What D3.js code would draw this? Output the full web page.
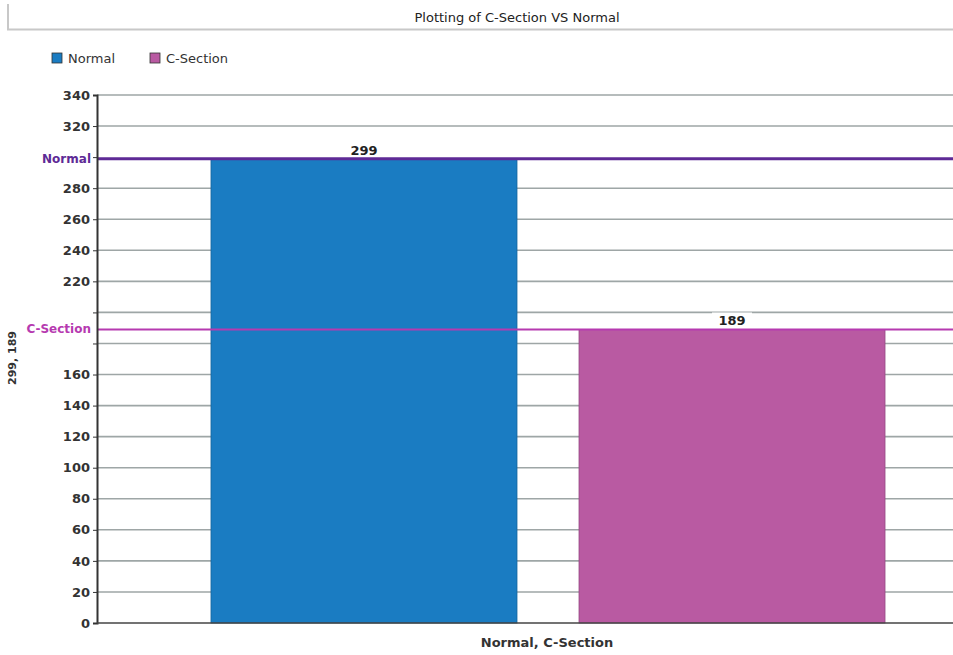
<!DOCTYPE html>
<html>
<head>
<meta charset="utf-8">
<script src="https://cdn.jsdelivr.net/npm/d3@7"></script>
<style>
body{margin:0;background:#fff;}
text{font-family:"Comic Sans MS","DejaVu Sans",sans-serif;}
</style>
</head>
<body>
<div class="graph"></div>
<script>
// data
var categories = ["Normal", "C-Section"];
var values = [299, 189];
var colors = ["#1a7cc2", "#b95aa2"];
var refLabels = ["Normal", "C-Section"];
var refColors = ["#5e2a96", "#b63ab0"];
var yTicks = [0,20,40,60,80,100,120,140,160,180,200,220,240,260,280,300,320,340];
var hiddenTicks = [180, 200, 300];

const width = 953;
const height = 655;

var svg = d3.select(".graph")
    .append("svg")
    .attr("width", width)
    .attr("height", height);

// header box
svg.append("path")
    .attr("d", "M8,4 V29.5 H953")
    .attr("fill", "none")
    .attr("stroke", "#c8c8c8")
    .attr("stroke-width", 2);

svg.append("text")
    .attr("x", 517)
    .attr("y", 22)
    .attr("text-anchor", "middle")
    .attr("font-size", 13)
    .attr("fill", "#222")
    .text("Plotting of C-Section VS Normal");

// legend
var legendX = [52, 150];
categories.forEach(function(c, i){
    svg.append("rect")
        .attr("x", legendX[i])
        .attr("y", 53)
        .attr("width", 10)
        .attr("height", 10)
        .attr("fill", colors[i])
        .attr("stroke", "#333")
        .attr("stroke-width", 0.8);
    svg.append("text")
        .attr("x", legendX[i] + 16)
        .attr("y", 63)
        .attr("font-size", 13)
        .attr("fill", "#333")
        .text(c);
});

// scales
var scaleY = d3.scaleLinear()
    .domain([0, 340])
    .range([623, 95]);

var scaleX = d3.scaleBand()
    .domain(categories)
    .range([180, 916])
    .paddingInner(0.1685)
    .paddingOuter(0.0842);

const left = 97, right = 953;

// grid
svg.append("g")
    .selectAll("line")
    .data(yTicks.filter(function(t){ return t > 0 && t !== 300; }))
    .enter()
    .append("line")
    .attr("x1", left)
    .attr("x2", right)
    .attr("y1", function(d){ return scaleY(d); })
    .attr("y2", function(d){ return scaleY(d); })
    .attr("stroke", "#9ea6a6")
    .attr("stroke-width", 1.6);

// bars
svg.selectAll("rect.bar")
    .data(values)
    .enter()
    .append("rect")
    .attr("class", "bar")
    .attr("x", function(d, i){ return scaleX(categories[i]); })
    .attr("y", function(d){ return scaleY(d); })
    .attr("width", scaleX.bandwidth())
    .attr("height", function(d){ return scaleY(0) - scaleY(d); })
    .attr("fill", function(d, i){ return colors[i]; })
    .attr("stroke", function(d, i){ return d3.color(colors[i]).darker(0.6); })
    .attr("stroke-width", 0.8);

// value labels
values.forEach(function(v, i){
    var cx = scaleX(categories[i]) + scaleX.bandwidth() / 2;
    svg.append("rect")
        .attr("x", cx - 20)
        .attr("y", scaleY(v) - 17)
        .attr("width", 40)
        .attr("height", 15)
        .attr("fill", "#fff");
    svg.append("text")
        .attr("x", cx)
        .attr("y", scaleY(v) - 4)
        .attr("text-anchor", "middle")
        .attr("font-size", 13)
        .attr("font-weight", "bold")
        .attr("fill", "#222")
        .text(v);
});

// reference lines
values.forEach(function(v, i){
    svg.append("line")
        .attr("x1", left)
        .attr("x2", right)
        .attr("y1", scaleY(v))
        .attr("y2", scaleY(v))
        .attr("stroke", refColors[i])
        .attr("stroke-width", i === 0 ? 3 : 2.2);
    svg.append("text")
        .attr("x", 91)
        .attr("y", scaleY(v) + 4)
        .attr("text-anchor", "end")
        .attr("font-size", 12)
        .attr("font-weight", "bold")
        .attr("fill", refColors[i])
        .text(refLabels[i]);
});

// axes
var yAxis = d3.axisLeft(scaleY)
    .tickValues(yTicks)
    .tickSize(4)
    .tickFormat(function(d){ return hiddenTicks.indexOf(d) >= 0 ? "" : d; });

var gy = svg.append("g")
    .attr("transform", "translate(" + left + ",0)")
    .call(yAxis);
gy.select(".domain").attr("stroke", "#333").attr("stroke-width", 2);
gy.selectAll(".tick line").attr("stroke", "#333");
gy.selectAll(".tick text")
    .attr("font-size", 13)
    .attr("font-weight", "bold")
    .attr("fill", "#333")
    .attr("font-family", "\"Comic Sans MS\",\"DejaVu Sans\",sans-serif");

svg.append("line")
    .attr("x1", left)
    .attr("x2", right)
    .attr("y1", scaleY(0))
    .attr("y2", scaleY(0))
    .attr("stroke", "#444")
    .attr("stroke-width", 1.5);

// axis titles
svg.append("text")
    .attr("transform", "translate(16,358) rotate(-90)")
    .attr("text-anchor", "middle")
    .attr("font-size", 11)
    .attr("font-weight", "bold")
    .attr("fill", "#333")
    .text(values.join(", "));

svg.append("text")
    .attr("x", 547)
    .attr("y", 647)
    .attr("text-anchor", "middle")
    .attr("font-size", 13)
    .attr("font-weight", "bold")
    .attr("fill", "#333")
    .text(categories.join(", "));
</script>
</body>
</html>
